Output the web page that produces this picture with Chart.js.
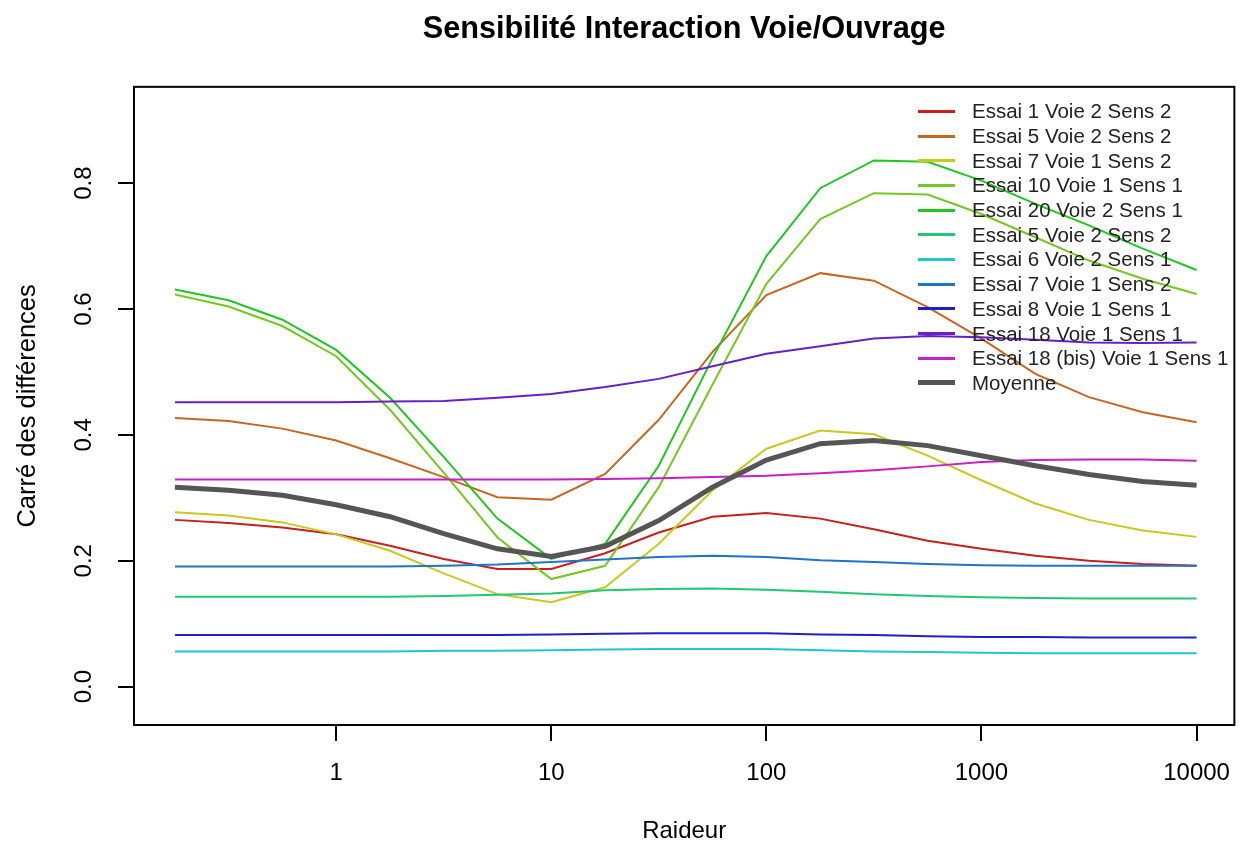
<!DOCTYPE html>
<html>
<head>
<meta charset="utf-8">
<script src="https://cdn.jsdelivr.net/npm/chart.js@4"></script>
<style>
  html, body { margin: 0; padding: 0; background: #fff; }
  #wrap { position: relative; width: 1248px; height: 846px; }
  #legend { position: absolute; left: 918px; top: 99px; font-family: "Liberation Sans", Arial, sans-serif; font-size: 20.5px; color: #222; }
  .item { height: 24.7px; display: flex; align-items: center; white-space: nowrap; }
  .swatch { width: 37px; margin-right: 17px; }
</style>
</head>
<body>
<div id="wrap">
  <canvas id="chart" width="1248" height="846"></canvas>
  <div id="legend"></div>
</div>
<script>
// Raideur (x, log scale)
const raideur = [0.178, 0.316, 0.562, 1, 1.78, 3.16, 5.62, 10, 17.8, 31.6, 56.2, 100, 178, 316, 562, 1000, 1780, 3160, 5620, 10000];

const essai1V2S2  = [0.265, 0.260, 0.253, 0.242, 0.224, 0.203, 0.187, 0.187, 0.212, 0.245, 0.270, 0.276, 0.267, 0.250, 0.232, 0.219, 0.208, 0.200, 0.195, 0.192];
const essai5V2S2  = [0.427, 0.422, 0.410, 0.391, 0.363, 0.333, 0.301, 0.297, 0.338, 0.424, 0.532, 0.622, 0.657, 0.645, 0.603, 0.553, 0.497, 0.460, 0.436, 0.420];
const essai7V1S2  = [0.277, 0.272, 0.261, 0.242, 0.216, 0.180, 0.147, 0.134, 0.158, 0.227, 0.312, 0.378, 0.407, 0.401, 0.367, 0.328, 0.291, 0.265, 0.248, 0.238];
const essai10V1S1 = [0.623, 0.604, 0.573, 0.525, 0.440, 0.340, 0.237, 0.171, 0.192, 0.317, 0.480, 0.640, 0.743, 0.784, 0.782, 0.751, 0.714, 0.677, 0.648, 0.624];
const essai20V2S1 = [0.631, 0.614, 0.583, 0.535, 0.459, 0.365, 0.267, 0.203, 0.227, 0.351, 0.522, 0.684, 0.792, 0.836, 0.834, 0.804, 0.767, 0.733, 0.696, 0.662];
const essai5bV2S2 = [0.143, 0.143, 0.143, 0.143, 0.143, 0.144, 0.146, 0.148, 0.153, 0.155, 0.156, 0.154, 0.151, 0.147, 0.144, 0.142, 0.141, 0.140, 0.140, 0.140];
const essai6V2S1  = [0.056, 0.056, 0.056, 0.056, 0.056, 0.057, 0.057, 0.058, 0.059, 0.060, 0.060, 0.060, 0.058, 0.056, 0.055, 0.054, 0.053, 0.053, 0.053, 0.053];
const essai7bV1S2 = [0.191, 0.191, 0.191, 0.191, 0.191, 0.192, 0.194, 0.198, 0.202, 0.206, 0.208, 0.206, 0.201, 0.198, 0.195, 0.193, 0.192, 0.192, 0.192, 0.192];
const essai8V1S1  = [0.082, 0.082, 0.082, 0.082, 0.082, 0.082, 0.082, 0.083, 0.084, 0.085, 0.085, 0.085, 0.083, 0.082, 0.080, 0.079, 0.079, 0.078, 0.078, 0.078];
const essai18V1S1 = [0.452, 0.452, 0.452, 0.452, 0.453, 0.454, 0.459, 0.465, 0.476, 0.489, 0.509, 0.529, 0.541, 0.553, 0.557, 0.555, 0.551, 0.547, 0.546, 0.547];
const essai18bis  = [0.329, 0.329, 0.329, 0.329, 0.329, 0.329, 0.329, 0.329, 0.330, 0.331, 0.333, 0.335, 0.339, 0.344, 0.350, 0.357, 0.360, 0.361, 0.361, 0.359];
const moyenne     = [0.317, 0.312, 0.304, 0.289, 0.270, 0.243, 0.219, 0.207, 0.223, 0.264, 0.317, 0.360, 0.386, 0.391, 0.383, 0.367, 0.351, 0.337, 0.326, 0.320];

const seriesLabels = [
  'Essai 1 Voie 2 Sens 2', 'Essai 5 Voie 2 Sens 2', 'Essai 7 Voie 1 Sens 2', 'Essai 10 Voie 1 Sens 1',
  'Essai 20 Voie 2 Sens 1', 'Essai 5 Voie 2 Sens 2', 'Essai 6 Voie 2 Sens 1', 'Essai 7 Voie 1 Sens 2',
  'Essai 8 Voie 1 Sens 1', 'Essai 18 Voie 1 Sens 1', 'Essai 18 (bis) Voie 1 Sens 1', 'Moyenne'
];
const seriesValues = [
  essai1V2S2, essai5V2S2, essai7V1S2, essai10V1S1, essai20V2S1, essai5bV2S2,
  essai6V2S1, essai7bV1S2, essai8V1S1, essai18V1S1, essai18bis, moyenne
];
const seriesColors = [
  '#C81F1F', '#C8661F', '#C8C81F', '#74C81F', '#1FC81F', '#1FC874',
  '#1FC8C8', '#1F74C8', '#1F1FC8', '#681FC8', '#C81FC8', '#555555'
];
const seriesWidths = [2, 2, 2, 2, 2, 2, 2, 2, 2, 2, 2, 5];

const xTicks = [1, 10, 100, 1000, 10000];
const yTicks = [0, 0.2, 0.4, 0.6, 0.8];

Chart.defaults.font.family = "'Liberation Sans', Arial, sans-serif";
Chart.defaults.color = '#000';

// box around the plot region
const boxPlugin = {
  id: 'box',
  afterDraw(chart) {
    const { ctx, chartArea: a } = chart;
    ctx.save();
    ctx.strokeStyle = '#000';
    ctx.lineWidth = 2;
    ctx.strokeRect(a.left, a.top, a.right - a.left, a.bottom - a.top);
    ctx.restore();
  }
};

const datasets = seriesLabels.map((label, i) => ({
  label: label,
  data: raideur.map((x, j) => ({ x: x, y: seriesValues[i][j] })),
  borderColor: seriesColors[i],
  borderWidth: seriesWidths[i],
  pointRadius: 0,
  tension: 0,
  fill: false,
  order: seriesLabels.length - i
}));

new Chart(document.getElementById('chart'), {
  type: 'line',
  data: { datasets: datasets },
  options: {
    responsive: false,
    animation: false,
    layout: { padding: { left: 0, right: 11, top: 0, bottom: 0 } },
    plugins: {
      legend: { display: false },
      tooltip: { enabled: false },
      title: {
        display: true,
        text: 'Sensibilité Interaction Voie/Ouvrage',
        fullSize: false,
        color: '#000',
        font: { size: 30.7, weight: 'bold', lineHeight: 1.2 },
        padding: { top: 11, bottom: 39 }
      }
    },
    scales: {
      x: {
        type: 'logarithmic',
        min: 0.1148,
        max: 14990,
        afterBuildTicks: (scale) => { scale.ticks = xTicks.map(v => ({ value: v })); },
        afterFit: (scale) => { scale.height = 121; },
        ticks: {
          callback: (v) => String(v),
          font: { size: 24 },
          padding: 17.6,
          maxRotation: 0,
          minRotation: 0
        },
        grid: { drawOnChartArea: false, drawTicks: true, tickLength: 16, color: '#000', lineWidth: 2 },
        border: { display: false },
        title: { display: true, text: 'Raideur', font: { size: 24 }, padding: { top: 0, bottom: 0 } }
      },
      y: {
        type: 'linear',
        min: -0.0609,
        max: 0.953,
        afterBuildTicks: (scale) => { scale.ticks = yTicks.map(v => ({ value: v })); },
        afterFit: (scale) => { scale.width = 134; },
        ticks: {
          callback: (v) => v.toFixed(1),
          font: { size: 24 },
          padding: 16.8,
          minRotation: 90,
          maxRotation: 90,
          crossAlign: 'center'
        },
        grid: { drawOnChartArea: false, drawTicks: true, tickLength: 16, color: '#000', lineWidth: 2 },
        border: { display: false },
        title: { display: true, text: 'Carré des différences', font: { size: 25.5 }, padding: { top: 13, bottom: 0 } }
      }
    }
  },
  plugins: [boxPlugin]
});

// legend, same order as the series
const legend = document.getElementById('legend');
seriesLabels.forEach((label, i) => {
  const item = document.createElement('div');
  item.className = 'item';
  const sw = document.createElement('span');
  sw.className = 'swatch';
  sw.style.height = (i === seriesLabels.length - 1 ? 5 : 3) + 'px';
  sw.style.background = seriesColors[i];
  const txt = document.createElement('span');
  txt.textContent = label;
  item.appendChild(sw);
  item.appendChild(txt);
  legend.appendChild(item);
});
</script>
</body>
</html>
